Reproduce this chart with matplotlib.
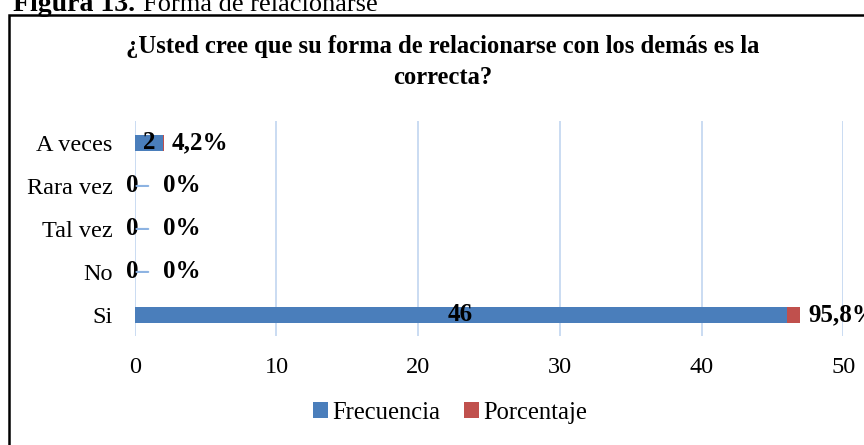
import numpy as np
import matplotlib
matplotlib.use("Agg")
import matplotlib.pyplot as plt
from matplotlib.patches import Rectangle

plt.rcParams['font.family'] = ['Liberation Serif', 'DejaVu Serif']

categorias = ['Si', 'No', 'Tal vez', 'Rara vez', 'A veces']
frecuencia = [46, 0, 0, 0, 2]
porcentaje = [0.958, 0, 0, 0, 0.042]
etiquetas_pct = ['95,8%', '0%', '0%', '0%', '4,2%']
titulo = '¿Usted cree que su forma de relacionarse con los demás es la\ncorrecta?'

azul = '#4a7ebb'
rojo = '#c0504d'
grid_c = '#c6d9f1'
lider = '#8db3e2'

fig = plt.figure(figsize=(8.64, 4.45), dpi=100)
ax = fig.add_axes([0.156, 0.244, 0.82, 0.483])

y = np.arange(len(categorias))
ax.barh(y, frecuencia, height=0.37, color=azul, label='Frecuencia', zorder=3)
ax.barh(y, porcentaje, left=frecuencia, height=0.37, color=rojo, label='Porcentaje', zorder=3)

ax.set_xlim(0, 50)
ax.set_ylim(-0.5, len(categorias) - 0.5)
ax.set_xticks(np.arange(0, 51, 10))
ax.set_yticks(y)
ax.set_yticklabels(categorias)
ax.grid(axis='x', color=grid_c, linewidth=1.3, zorder=0)
ax.tick_params(length=0, labelsize=17.5, colors='black', pad=15)
ax.tick_params(axis='y', pad=16)
for s in ax.spines.values():
    s.set_visible(False)

for i in range(len(categorias)):
    f = frecuencia[i]
    p = porcentaje[i]
    if f > 0:
        ax.text(f / 2, i, str(f), ha='center', va='center', fontsize=18,
                fontweight='bold', zorder=4)
        ax.annotate(etiquetas_pct[i], (f + p, i), xytext=(6, 0),
                    textcoords='offset points', ha='left', va='center',
                    fontsize=18, fontweight='bold')
    else:
        ax.annotate('0', (0, i), xytext=(-2, 0), textcoords='offset points',
                    ha='center', va='center', fontsize=18, fontweight='bold',
                    annotation_clip=False)
        ax.annotate('', (0.95, i), xytext=(0.12, i),
                    arrowprops=dict(arrowstyle='-', color=lider, lw=1.5,
                                    shrinkA=0, shrinkB=0),
                    annotation_clip=False)
        ax.annotate(etiquetas_pct[i], (0, i), xytext=(20, 0),
                    textcoords='offset points', ha='left', va='center',
                    fontsize=18, fontweight='bold', annotation_clip=False)

ax.legend(loc='center', bbox_to_anchor=(0.445, -0.355), ncol=2, frameon=False,
          fontsize=17.7, handlelength=0.6, handleheight=0.6, handletextpad=0.15,
          columnspacing=1.0)

fig.text(0.512, 1 - 62 / 445, titulo, ha='center', va='center', fontsize=17.7,
         fontweight='bold', linespacing=1.45)

fig.text(135 / 864, 1 - 11 / 445, 'Figura 13.', ha='right', va='baseline',
         fontsize=20, fontweight='bold')
fig.text(143 / 864, 1 - 11 / 445, 'Forma de relacionarse', ha='left',
         va='baseline', fontsize=19)

fig.patches.append(Rectangle((9 / 864, -0.1), 1.0, 1.1 - 15 / 445,
                             transform=fig.transFigure, fill=False,
                             edgecolor='black', linewidth=1.8))

fig.savefig('out.png', dpi=100)
